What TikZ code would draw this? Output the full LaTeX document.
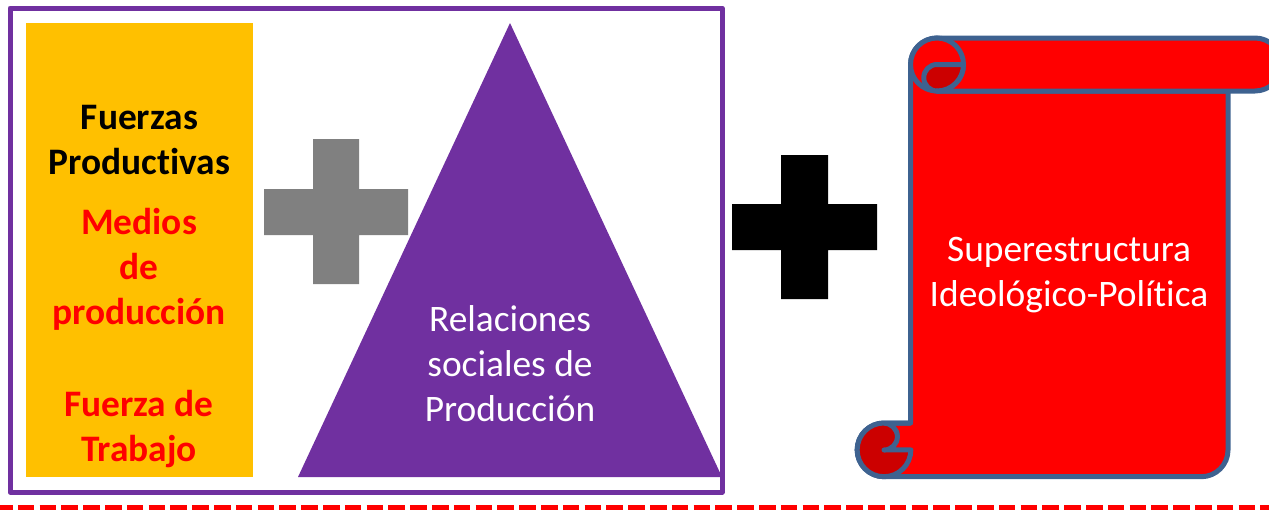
\documentclass[tikz,border=0pt]{standalone}
\usepackage{fontspec}
\setmainfont[Ligatures=NoCommon]{Carlito}
\definecolor{frameP}{HTML}{7030A0}
\definecolor{yel}{HTML}{FFC000}
\definecolor{scrollB}{HTML}{3E6290}
\definecolor{darkR}{HTML}{CC0000}
\tikzset{
  label/.style={align=center,inner sep=0pt,font=\fontsize{37.4}{45}\selectfont},
  boldlabel/.style={label,font=\fontsize{37.4}{45}\selectfont\bfseries},
  scrollline/.style={draw=scrollB,line width=5pt,line join=round,line cap=round}
}
\begin{document}
\begin{tikzpicture}[x=1pt,y=-1pt]
\useasboundingbox (0,0) rectangle (1269,509);
\clip (0,0) rectangle (1269,509);
% frame and yellow panel
\draw[frameP,line width=5pt,line join=round] (10,8) rectangle (722,492);
\fill[yel] (26,23) rectangle (253,477);
% triangle
\fill[frameP] (510,23) -- (722,477) -- (298,477) -- cycle;
% grey plus
\fill[black!50] (313,139) -- (359,139) -- (359,189) -- (408,189) -- (408,235) -- (359,235) -- (359,284) -- (313,284) -- (313,235) -- (264,235) -- (264,189) -- (313,189) -- cycle;
% black plus
\fill[black] (781,155) -- (828,155) -- (828,204) -- (877,204) -- (877,250) -- (828,250) -- (828,299) -- (781,299) -- (781,250) -- (732,250) -- (732,204) -- (781,204) -- cycle;
% scroll body (arc angles follow the y-down axes)
\path[fill=red,scrollline] (937,91) -- (1228,91) -- (1228,450) arc[start angle=0,end angle=90,radius=26.7] -- (884,476.7)
  arc[start angle=90,end angle=270,radius=26.85] -- (910.5,423) -- (910.5,64.5) arc[start angle=180,end angle=270,radius=26.5] -- cycle;
% top band
\path[fill=red,scrollline] (937,38) -- (1255,38) arc[start angle=-90,end angle=90,radius=26.5] -- (937,91);
% top-left roll
\path[fill=red,scrollline] (937,38) arc[start angle=-90,end angle=90,radius=26.5] arc[start angle=90,end angle=270,radius=26.5];
\path[fill=darkR] (963.5,64.5) arc[start angle=0,end angle=90,radius=26.5] arc[start angle=90,end angle=270,radius=13.25] -- cycle;
\draw[scrollline] (963.5,64.5) -- (937,64.5) arc[start angle=270,end angle=90,radius=13.25];
\draw[scrollline] (963.5,64.5) arc[start angle=0,end angle=90,radius=26.5];
% bottom-left roll
\path[fill=darkR] (884,423) arc[start angle=270,end angle=90,radius=26.85] arc[start angle=90,end angle=0,radius=26.85] -- (884,450) arc[start angle=90,end angle=-90,radius=13.4] -- cycle;
\draw[scrollline] (884,423) arc[start angle=270,end angle=90,radius=26.85] arc[start angle=90,end angle=0,radius=26.85] -- (884,450) arc[start angle=90,end angle=-90,radius=13.4] -- (910.5,423);
% dashed rule
\draw[red,line width=6pt,dash pattern=on 16.6pt off 5.2pt,dash phase=4pt] (0,507.5) -- (1269,507.5);
% texts
\node[boldlabel,text=black] (fp) at (139.5,140) {Fuerzas\\Productivas};
\node[boldlabel,text=red] (mp) at (139,269.5) {Medios\\de\\producción};
\node[boldlabel,text=red] (ft) at (139,429) {Fuerza de\\Trabajo};
\node[label,text=white] (rs) at (510,364) {Relaciones\\sociales de\\Producción};
\node[label,text=white] (si) at (1069,275) {Superestructura\\Ideológico-Política};
\end{tikzpicture}
\end{document}
